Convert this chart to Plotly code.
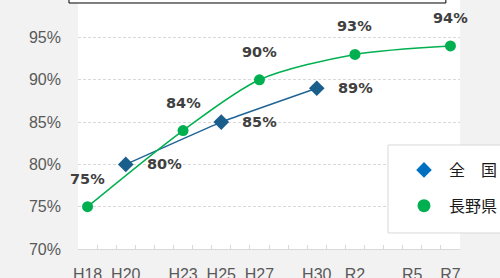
import plotly.graph_objects as go

# ---- data ----
categories = ["H18", "H19", "H20", "H21", "H22", "H23", "H24", "H25", "H26", "H27",
              "H28", "H29", "H30", "R1", "R2", "R3", "R4", "R5", "R6", "R7"]
tick_text = ["H18", "", "H20", "", "", "H23", "", "H25", "", "H27",
             "", "", "H30", "", "R2", "", "", "R5", "", "R7"]
national_x = ["H20", "H25", "H30"]
national_y = [80, 85, 89]
nagano_x = ["H18", "H23", "H27", "R2", "R7"]
nagano_y = [75, 84, 90, 93, 94]
series_names = ["全　国", "長野県"]
y_ticks = [70, 75, 80, 85, 90, 95]
y_tick_text = ["70%", "75%", "80%", "85%", "90%", "95%"]

BLUE_LINE = "#1f6496"
BLUE_MARK = "#1a5e8c"
BLUE_LEG = "#0070c0"
GREEN = "#00b050"

fig = go.Figure()

fig.add_trace(go.Scatter(
    x=national_x, y=national_y, mode="lines+markers", name=series_names[0],
    line=dict(color=BLUE_LINE, width=1.5, shape="spline", smoothing=0.3),
    marker=dict(symbol="diamond", size=12, color=BLUE_MARK),
    showlegend=False, cliponaxis=False,
))
fig.add_trace(go.Scatter(
    x=nagano_x, y=nagano_y, mode="lines+markers", name=series_names[1],
    line=dict(color=GREEN, width=1.5, shape="spline", smoothing=0.8),
    marker=dict(symbol="circle", size=11, color=GREEN),
    showlegend=False, cliponaxis=False,
))
# legend-only entries
fig.add_trace(go.Scatter(
    x=[None], y=[None], mode="markers", name=series_names[0],
    marker=dict(symbol="diamond", size=12, color=BLUE_LEG), legendgroup="a",
))
fig.add_trace(go.Scatter(
    x=[None], y=[None], mode="markers", name=series_names[1],
    marker=dict(symbol="circle", size=13, color=GREEN), legendgroup="b",
))

label_font = dict(family="DejaVu Sans", size=14.5, color="#404040")
for xv, yv in zip(national_x, national_y):
    fig.add_annotation(x=xv, y=yv, xref="x", yref="y", text=f"<b>{yv}%</b>",
                       showarrow=False, xanchor="left", yanchor="middle",
                       xshift=19, font=label_font)
for xv, yv in zip(nagano_x, nagano_y):
    fig.add_annotation(x=xv, y=yv, xref="x", yref="y", text=f"<b>{yv}%</b>",
                       showarrow=False, xanchor="center", yanchor="middle",
                       yshift=28, font=label_font)

# cropped "100%" tick label at top
fig.add_annotation(x=0, y=1.024, xref="paper", yref="paper", text="100%",
                   showarrow=False, xanchor="right", yanchor="middle", xshift=-16,
                   font=dict(family="Liberation Sans", size=16, color="#595959"))

# cropped title box at top
fig.add_shape(type="rect", xref="paper", yref="paper",
              x0=-0.0236, x1=0.963, y0=0.988, y1=1.2,
              line=dict(color="#000000", width=1), fillcolor="white", layer="above")

# legend box (extends past the right edge)
fig.add_shape(type="rect", xref="paper", yref="paper",
              x0=0.8115, x1=1.3, y0=0.0643, y1=0.4177,
              line=dict(color="#d9d9d9", width=1), fillcolor="white", layer="above")

fig.update_layout(
    width=500, height=278,
    margin=dict(l=78, r=40, t=0, b=29, autoexpand=False),
    paper_bgcolor="#f2f2f2", plot_bgcolor="white",
    font=dict(family="Liberation Sans", size=16, color="#595959"),
    showlegend=True,
    legend=dict(
        x=0.8403, y=0.3855, xanchor="left", yanchor="top",
        bgcolor="rgba(0,0,0,0)", borderwidth=0,
        font=dict(family="Noto Sans CJK JP", size=16, color="#1a1a1a"),
        tracegroupgap=12, itemwidth=40,
    ),
    xaxis=dict(
        type="category", categoryorder="array", categoryarray=categories,
        tickvals=categories, ticktext=tick_text, tickson="boundaries",
        range=[-0.5, len(categories) - 0.5], tickangle=0,
        ticks="inside", ticklen=4, tickcolor="#d9d9d9",
        showline=True, linecolor="#d9d9d9", linewidth=1,
        showgrid=False, ticklabelstandoff=11,
        tickfont=dict(family="Liberation Sans", size=16, color="#595959"),
    ),
    yaxis=dict(
        range=[70, 99.43], tickvals=y_ticks, ticktext=y_tick_text,
        showgrid=True, gridcolor="#d9d9d9", gridwidth=1, griddash="3px,2px",
        zeroline=False, showline=False, ticks="", ticklabelstandoff=16,
        tickfont=dict(family="Liberation Sans", size=16, color="#595959"),
    ),
)

fig.write_html("out.html", config={"displayModeBar": False},
               post_script="document.body.style.margin='0';")
